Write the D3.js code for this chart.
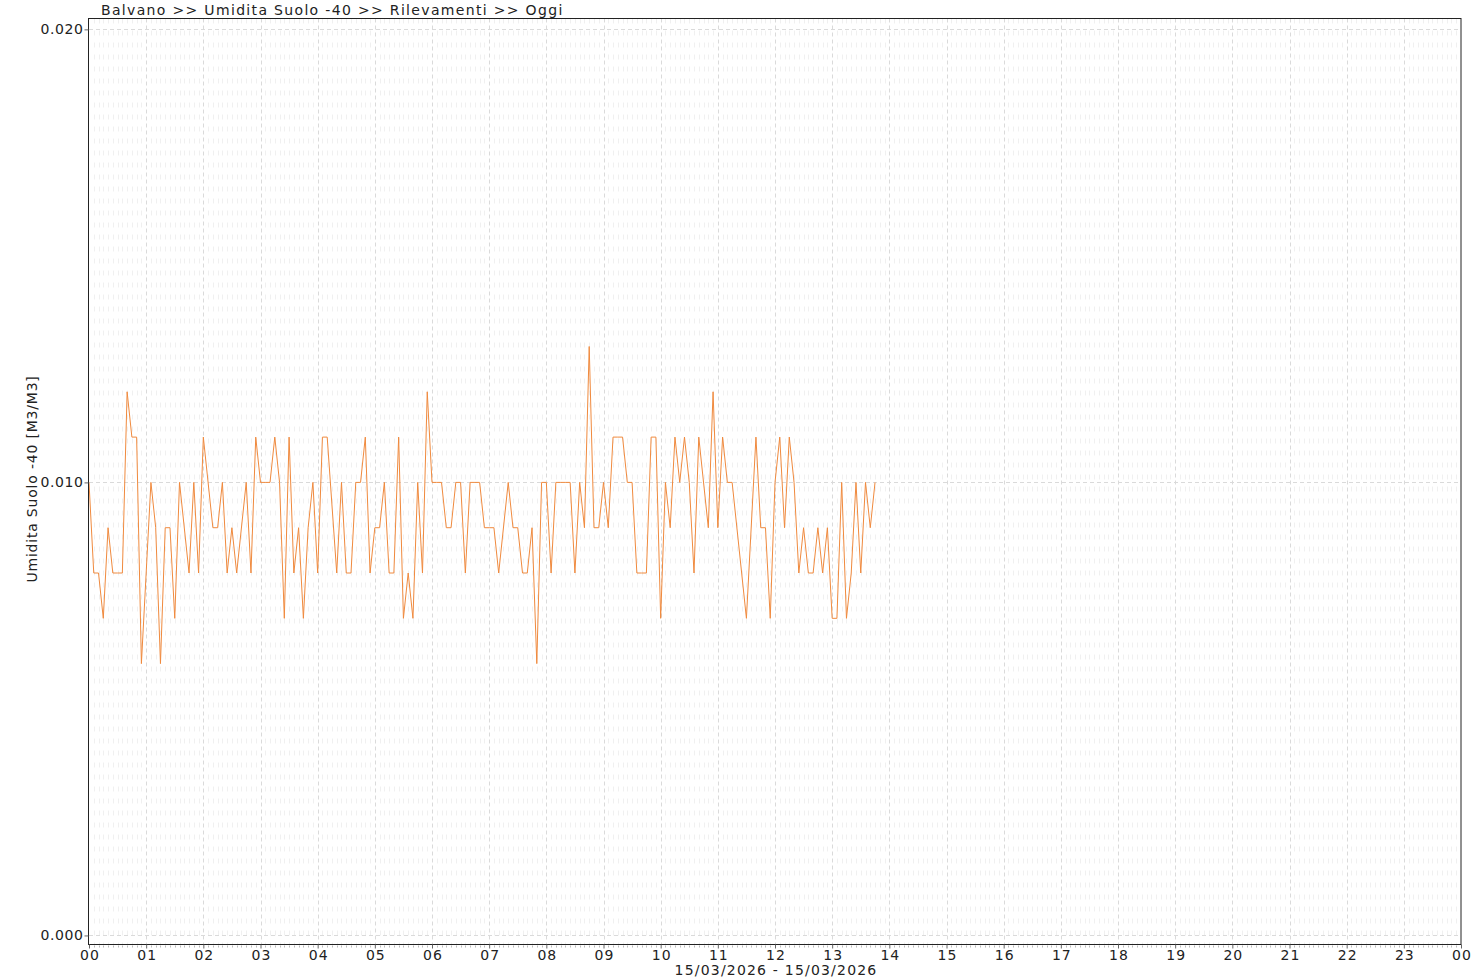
<!DOCTYPE html>
<html>
<head>
<meta charset="utf-8">
<script src="https://cdn.jsdelivr.net/npm/d3@7"></script>
<style>
  html, body { margin: 0; padding: 0; background: #ffffff; }
  svg { display: block; }
  text { font-family: "DejaVu Sans", sans-serif; fill: #222; }
</style>
</head>
<body>
<svg id="chart" width="1480" height="980"></svg>
<script>
// ---- data ----
const chartTitle = "Balvano >> Umidita Suolo -40 >> Rilevamenti >> Oggi";
const yAxisTitle = "Umidita Suolo -40 [M3/M3]";
const dateRangeLabel = "15/03/2026 - 15/03/2026";
const yTickValues = [0.000, 0.010, 0.020];
const xTickLabels = ["00","01","02","03","04","05","06","07","08","09","10","11","12",
                     "13","14","15","16","17","18","19","20","21","22","23","00"];

// minutes after midnight of each reading
const sampleMinutes = [
  0,5,10,15,20,25,30,35,40,45,50,55,
  65,70,75,80,85,90,95,
  105,110,115,120,
  130,135,140,145,150,155,
  165,170,175,180,185,190,195,200,205,210,215,220,225,230,235,240,245,250,
  260,265,270,275,280,285,290,295,300,305,310,315,320,325,330,335,340,345,350,
  355,360,365,370,375,380,385,390,395,400,405,410,415,420,425,430,
  440,445,450,455,460,465,470,475,480,485,490,495,500,505,510,515,520,525,530,
  535,540,545,550,555,560,565,570,575,580,585,590,595,600,605,610,615,620,625,630,635,640,
  650,655,660,665,670,675,
  690,
  700,705,710,715,720,725,730,735,740,745,750,755,760,765,770,775,780,785,790,795,800,805,810,815,820,825
];
// soil moisture values [M3/M3]
const moistureValues = [
  0.010,0.008,0.008,0.007,0.009,0.008,0.008,0.008,0.012,0.011,0.011,0.006,
  0.010,0.009,0.006,0.009,0.009,0.007,0.010,
  0.008,0.010,0.008,0.011,
  0.009,0.009,0.010,0.008,0.009,0.008,
  0.010,0.008,0.011,0.010,0.010,0.010,0.011,0.010,0.007,0.011,0.008,0.009,0.007,0.009,0.010,0.008,0.011,0.011,
  0.008,0.010,0.008,0.008,0.010,0.010,0.011,0.008,0.009,0.009,0.010,0.008,0.008,0.011,0.007,0.008,0.007,0.010,0.008,
  0.012,0.010,0.010,0.010,0.009,0.009,0.010,0.010,0.008,0.010,0.010,0.010,0.009,0.009,0.009,0.008,
  0.010,0.009,0.009,0.008,0.008,0.009,0.006,0.010,0.010,0.008,0.010,0.010,0.010,0.010,0.008,0.010,0.009,0.013,0.009,
  0.009,0.010,0.009,0.011,0.011,0.011,0.010,0.010,0.008,0.008,0.008,0.011,0.011,0.007,0.010,0.009,0.011,0.010,0.011,0.010,0.008,0.011,
  0.009,0.012,0.009,0.011,0.010,0.010,
  0.007,
  0.011,0.009,0.009,0.007,0.010,0.011,0.009,0.011,0.010,0.008,0.009,0.008,0.008,0.009,0.008,0.009,0.007,0.007,0.010,0.007,0.008,0.010,0.008,0.010,0.009,0.010
];

// ---- layout ----
const plot = { left: 89, right: 1461, top: 18.5, bottom: 944.5 };
const yDomain = [-0.0002, 0.02024];
const xDomain = [0, 1440];

const svg = d3.select("#chart");
const x = d3.scaleLinear().domain(xDomain).range([plot.left, plot.right]);
const y = d3.scaleLinear().domain(yDomain).range([plot.bottom, plot.top]);

const gGrid = svg.append("g");

// minor vertical gridlines (every 5 minutes)
const minorX = d3.range(xDomain[0], xDomain[1] + 1, 5).filter(m => m % 60 !== 0);
gGrid.selectAll("line.minor-x").data(minorX).join("line")
  .attr("x1", d => Math.round(x(d)) + 0.5).attr("x2", d => Math.round(x(d)) + 0.5)
  .attr("y1", plot.top).attr("y2", plot.bottom)
  .attr("stroke", "#f0f0f0").attr("stroke-width", 1)
  .attr("stroke-dasharray", "5,7");

// major vertical gridlines (hours)
const majorX = d3.range(60, 1440, 60);
gGrid.selectAll("line.major-x").data(majorX).join("line")
  .attr("x1", d => Math.round(x(d)) + 0.5).attr("x2", d => Math.round(x(d)) + 0.5)
  .attr("y1", plot.top).attr("y2", plot.bottom)
  .attr("stroke", "#dadada").attr("stroke-width", 1)
  .attr("stroke-dasharray", "4,3");

// major horizontal gridlines
gGrid.selectAll("line.major-y").data(yTickValues).join("line")
  .attr("x1", plot.left).attr("x2", plot.right)
  .attr("y1", d => Math.round(y(d)) + 0.5).attr("y2", d => Math.round(y(d)) + 0.5)
  .attr("stroke", "#dadada").attr("stroke-width", 1)
  .attr("stroke-dasharray", "4,3");

// data line
const pts = sampleMinutes.map((m, i) => ({ m, v: moistureValues[i] }));
svg.append("path")
  .datum(pts)
  .attr("fill", "none")
  .attr("stroke", "#f08a3e")
  .attr("stroke-width", 1)
  .attr("d", d3.line().x(d => x(d.m)).y(d => y(d.v)));

// plot border
svg.append("rect")
  .attr("x", plot.left - 0.5).attr("y", plot.top)
  .attr("width", plot.right - plot.left + 0.5).attr("height", plot.bottom - plot.top)
  .attr("fill", "none").attr("stroke", "#222").attr("stroke-width", 1);

// y axis
const yAxis = d3.axisLeft(y).tickValues(yTickValues).tickFormat(d3.format(".3f"))
  .tickSize(4).tickPadding(1);
const gy = svg.append("g").attr("transform", `translate(${plot.left - 0.5},0)`).call(yAxis);
gy.select(".domain").remove();
gy.selectAll(".tick line").attr("stroke", "#666");
gy.selectAll(".tick text").style("font-family", "DejaVu Sans").style("font-size", "14px")
  .style("letter-spacing", "0.6px").attr("fill", "#222");

// x axis
const xAxis = d3.axisBottom(x).tickValues(d3.range(0, 1441, 60))
  .tickFormat((d, i) => xTickLabels[i]).tickSize(4).tickPadding(2);
const gx = svg.append("g").attr("transform", `translate(0,${plot.bottom})`).call(xAxis);
gx.select(".domain").remove();
gx.selectAll(".tick line").attr("stroke", "#666");
gx.selectAll(".tick text").style("font-family", "DejaVu Sans").style("font-size", "14px")
  .style("letter-spacing", "1px").attr("dx", "0.5").attr("fill", "#222");

// x minor ticks
svg.append("g").selectAll("line").data(minorX).join("line")
  .attr("x1", d => Math.round(x(d)) + 0.5).attr("x2", d => Math.round(x(d)) + 0.5)
  .attr("y1", plot.bottom + 1).attr("y2", plot.bottom + 3)
  .attr("stroke", "#bbb").attr("stroke-width", 1);

// titles
svg.append("text").attr("x", 101).attr("y", 15)
  .style("font-size", "14px").style("letter-spacing", "1.33px").text(chartTitle);

svg.append("text")
  .attr("transform", `translate(37,479) rotate(-90)`)
  .attr("text-anchor", "middle")
  .style("font-size", "14px").style("letter-spacing", "0.8px").text(yAxisTitle);

svg.append("text").attr("x", (plot.left + plot.right) / 2 + 1).attr("y", 975)
  .attr("text-anchor", "middle")
  .style("font-size", "14px").style("letter-spacing", "1.2px").text(dateRangeLabel);
</script>
</body>
</html>
